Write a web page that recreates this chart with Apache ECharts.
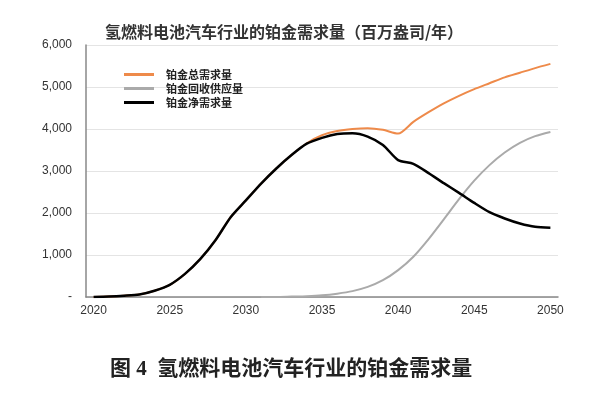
<!DOCTYPE html>
<html><head><meta charset="utf-8">
<script src="https://cdn.jsdelivr.net/npm/echarts@6/dist/echarts.min.js"></script>
<style>html,body{margin:0;padding:0;background:#fff;}#c{width:594px;height:395px;}</style>
</head><body><div id="c"></div>
<script>
var years = [];
for (var y = 2020; y <= 2050; y++) years.push(String(y));
var totalDemand = [0,10,30,60,150,290,550,900,1350,1900,2300,2700,3060,3380,3660,3850,3950,4000,4020,3980,3890,4170,4400,4610,4790,4950,5090,5230,5340,5450,5550];
var recycleSupply = [null,null,null,null,null,null,null,null,null,null,null,0,0,10,20,40,80,140,240,400,640,960,1380,1850,2330,2770,3140,3440,3670,3830,3930];
var netDemand = [0,10,30,60,150,290,550,900,1350,1900,2300,2700,3060,3380,3650,3790,3880,3900,3820,3620,3260,3170,2950,2710,2480,2240,2020,1870,1750,1670,1650];
var seriesNames = ['铂金总需求量','铂金回收供应量','铂金净需求量'];
var yTicks = [0,1000,2000,3000,4000,5000,6000];

var chart = echarts.init(document.getElementById('c'));
chart.setOption({
  animation:false,
  backgroundColor:'#fff',
  title:{text:'氢燃料电池汽车行业的铂金需求量（百万盎司/年）',left:279,top:19,textAlign:'center',
    textStyle:{fontSize:16,fontWeight:'bold',color:'#333',fontFamily:'"Noto Sans CJK SC", sans-serif'}},
  graphic:[{type:'text',left:110,top:359,style:{text:'图 4  氢燃料电池汽车行业的铂金需求量',
    font:'bold 21px "Liberation Serif", "Noto Sans CJK SC", serif',fill:'#222'}}],
  legend:{orient:'vertical',left:119,top:64,itemGap:3,itemWidth:30,itemHeight:3,icon:'rect',
    data:seriesNames,textStyle:{fontSize:11,fontWeight:'bold',color:'#222',fontFamily:'"Noto Sans CJK SC", sans-serif',padding:[0,0,0,7]}},
  grid:{left:86,right:36,top:45,bottom:98},
  xAxis:{type:'category',data:years,boundaryGap:true,
    axisLine:{lineStyle:{color:'#888',width:1.5}},axisTick:{show:false},
    axisLabel:{interval:4,color:'#333',fontSize:12,fontFamily:'Arial, "Liberation Sans", sans-serif',margin:8}},
  yAxis:{type:'value',min:yTicks[0],max:yTicks[yTicks.length-1],interval:1000,
    axisLine:{show:true,lineStyle:{color:'#888',width:1.5}},axisTick:{show:false},
    splitLine:{lineStyle:{color:'#e4e4e4'}},
    axisLabel:{color:'#333',fontSize:12,margin:14,fontFamily:'Arial, "Liberation Sans", sans-serif',
      formatter:function(v){return v===0?'-':v.toLocaleString('en-US');}}},
  series:[
    {name:seriesNames[0],type:'line',data:totalDemand,smooth:0.25,showSymbol:false,
      lineStyle:{color:'#EE8A4A',width:2},itemStyle:{color:'#EE8A4A'}},
    {name:seriesNames[1],type:'line',data:recycleSupply,smooth:0.25,showSymbol:false,
      lineStyle:{color:'#AAAAAA',width:2},itemStyle:{color:'#AAAAAA'}},
    {name:seriesNames[2],type:'line',data:netDemand,smooth:0.25,showSymbol:false,
      lineStyle:{color:'#000',width:2.5},itemStyle:{color:'#000'}}
  ]
});
</script></body></html>
